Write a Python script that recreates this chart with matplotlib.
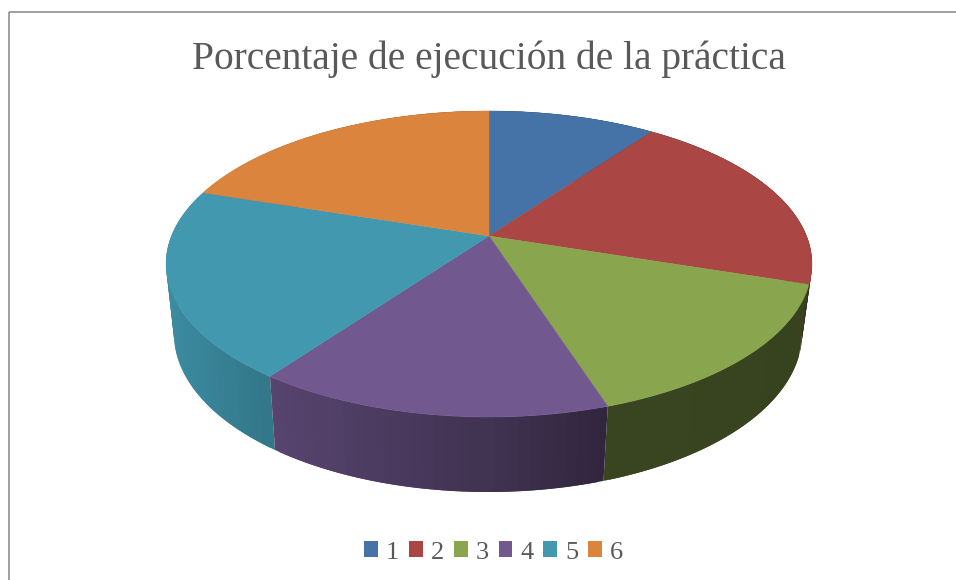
import matplotlib
matplotlib.use("Agg")
import matplotlib.pyplot as plt
from matplotlib.patches import Patch, Rectangle
import numpy as np

# data
categories = ["1", "2", "3", "4", "5", "6"]
values = [10, 20, 15, 15, 20, 20]
colors = ["#4572A7", "#AA4643", "#89A54E", "#71588F", "#4198AF", "#DB843D"]
title = "Porcentaje de ejecución de la práctica"

plt.rcParams["font.family"] = ["Liberation Serif", "DejaVu Serif"]


# perspective view of the pie disc, angle runs clockwise from 12 o'clock
def top_rim(t):
    u, v = np.sin(t), np.cos(t)
    d = 1 + 0.183 * v
    return 489 + 317.5 * u / d, 236 - 147.9 * v / d


def bottom_rim(t):
    u, v = np.sin(t), np.cos(t)
    d = 1 + 0.183 * v
    return 488 + 308.7 * u / d, 304.7 - 153 * v / d


# side wall gets darker towards the right
def shade(x, c):
    f = np.interp(x, [166, 275, 480, 607, 812], [0.92, 0.78, 0.58, 0.42, 0.40])
    return tuple(np.array(matplotlib.colors.to_rgb(c)) * f)


fig = plt.figure(figsize=(9.56, 5.8), dpi=100)
ax = fig.add_axes([0, 0, 1, 1])
ax.set_xlim(0, 956)
ax.set_ylim(580, 0)
ax.axis("off")

# chart frame, runs off the right and bottom of the picture
ax.add_patch(Rectangle((9, 11.5), 1000, 700, fc="none", ec="#868686", lw=1.1))

edges = np.cumsum([0] + values) / sum(values) * 2 * np.pi

# walls, back to front. each strip overlaps the next one so no seams show
strips = []
for i, c in enumerate(colors):
    n = max(int(values[i] * 2), 2)
    t = np.linspace(edges[i], edges[i + 1], n + 1)
    step = t[1] - t[0]
    for a, b in zip(t[:-1], t[1:]):
        a2 = max(a - step * 0.5, edges[i])
        b2 = min(b + step * 0.5, edges[i + 1])
        strips.append((np.cos((a + b) / 2), a2, b2, (a + b) / 2, c))
strips.sort(key=lambda s: -s[0])
for _, a, b, mid, c in strips:
    t = np.linspace(a, b, 6)
    x1, y1 = top_rim(t)
    x2, y2 = bottom_rim(t[::-1])
    col = shade((top_rim(mid)[0] + bottom_rim(mid)[0]) / 2, c)
    ax.fill(np.r_[x1, x2], np.r_[y1, y2], fc=col, ec="none")

# top face
cx, cy = 489, 236
for i, c in enumerate(colors):
    t = np.linspace(edges[i], edges[i + 1], 120)
    x, y = top_rim(t)
    ax.fill(np.r_[cx, x], np.r_[cy, y], fc=c, ec=c, lw=0.3)

ax.text(488.5, 59, title, ha="center", va="center", fontsize=28.4, color="#595959")

handles = [Patch(fc=c, ec="none") for c in colors]
ax.legend(handles, categories, loc="center", bbox_to_anchor=(493.5, 552.5),
          bbox_transform=ax.transData, ncol=6, frameon=False, fontsize=19,
          labelcolor="#595959", handlelength=0.52, handleheight=0.52,
          handletextpad=0.3, columnspacing=0.38, borderpad=0, labelspacing=0)

fig.savefig("out.png", dpi=100)
